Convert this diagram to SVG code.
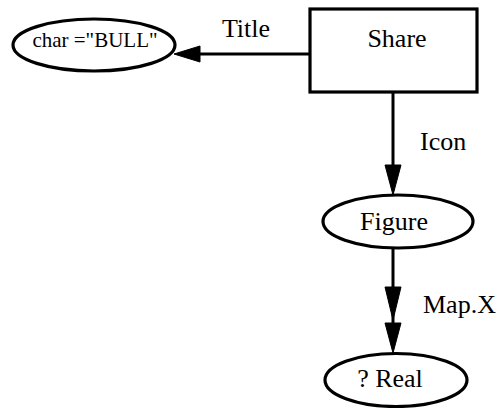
<svg xmlns="http://www.w3.org/2000/svg" width="498" height="408" viewBox="0 0 498 408">
<style>
.shape{fill:#fff;stroke:#000;stroke-width:3.2}
.edge{fill:none;stroke:#000;stroke-width:3}
.head{fill:#000;stroke:#000;stroke-width:1}
.lbl{font-family:"Liberation Serif",serif;font-size:26px;fill:#000}
.small{font-family:"Liberation Serif",serif;font-size:21px;fill:#000}
</style>
<rect width="498" height="408" fill="#fff"/>
<g id="connectors">
<g id="edge-title">
<line class="edge" x1="310" y1="54" x2="196" y2="54"/>
<polygon class="head" points="174,54 200,46 200,62"/>
<text class="lbl" x="246" y="37" text-anchor="middle">Title</text>
</g>
<g id="edge-icon">
<line class="edge" x1="393" y1="92" x2="393" y2="168"/>
<polygon class="head" points="385,165 401,165 393,195"/>
<text class="lbl" x="420" y="150">Icon</text>
</g>
<g id="edge-mapx">
<line class="edge" x1="393" y1="248" x2="393" y2="330"/>
<polygon class="head" points="385,287 401,287 393,320"/>
<polygon class="head" points="385,323 401,323 393,353"/>
<text class="lbl" x="423" y="313">Map.X</text>
</g>
</g>
<g id="node-share">
<rect class="shape" x="310" y="9" width="167" height="83" stroke-width="3.5"/>
<text class="lbl" x="397" y="47" text-anchor="middle">Share</text>
</g>
<g id="node-bull">
<ellipse class="shape" cx="94" cy="45" rx="81" ry="26"/>
<text class="small" x="95" y="47" text-anchor="middle">char ="BULL"</text>
</g>
<g id="node-figure">
<ellipse class="shape" cx="398" cy="221.5" rx="75" ry="26.5"/>
<text class="lbl" x="394" y="230" text-anchor="middle">Figure</text>
</g>
<g id="node-real">
<ellipse class="shape" cx="396" cy="380" rx="71" ry="26.5"/>
<text class="lbl" x="390" y="387" text-anchor="middle">? Real</text>
</g>
</svg>
